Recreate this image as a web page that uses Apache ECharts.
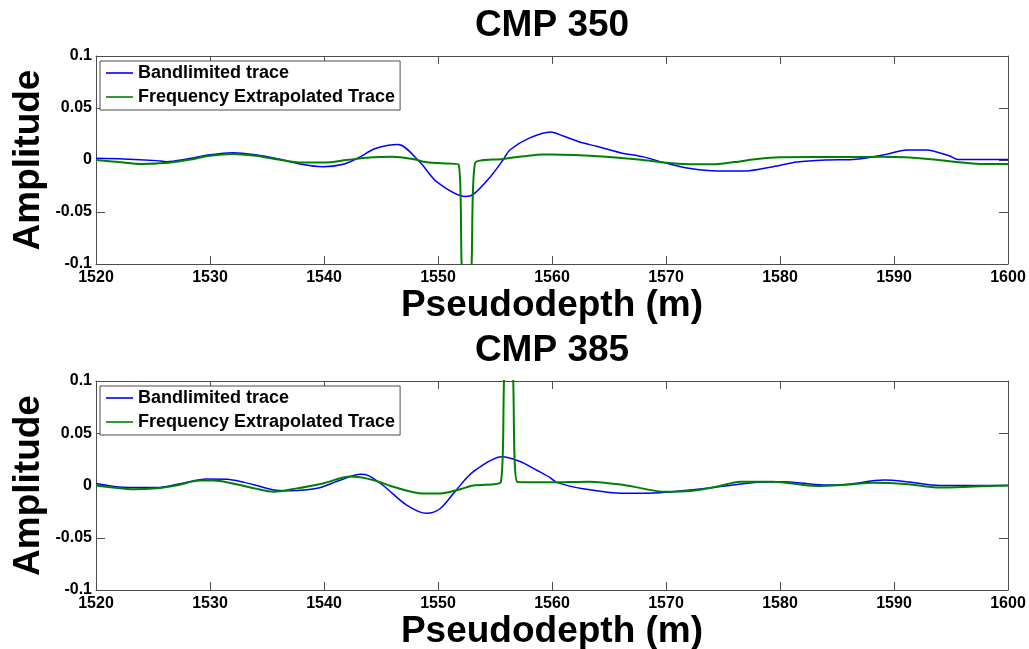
<!DOCTYPE html>
<html>
<head>
<meta charset="utf-8">
<title>CMP 350 / CMP 385</title>
<script src="https://cdn.jsdelivr.net/npm/echarts@6/dist/echarts.min.js"></script>
<style>
  html, body { margin: 0; padding: 0; background: #ffffff; }
  #chart { width: 1029px; height: 649px; }
</style>
</head>
<body>
<div id="chart"></div>
<script>
// Trace amplitudes against pseudodepth (m) for two CMP gathers.

const xTicks = { min: 1520, max: 1600, step: 10 };
const yTicks = { min: -0.1, max: 0.1, step: 0.05 };

const panelTitles = ['CMP 350', 'CMP 385'];
const seriesNames = ['Bandlimited trace', 'Frequency Extrapolated Trace'];

// CMP 350 - bandlimited trace
const cmp350BandDepth = [1520, 1522.4, 1525.3, 1526.2, 1528, 1530, 1532, 1534, 1536, 1538, 1539.9, 1541.7, 1543, 1544.5, 1546.5, 1548.4, 1549.9, 1552.4, 1553.1, 1554.6, 1555.7, 1556.3, 1558, 1559.9, 1561, 1562.5, 1564, 1566, 1568, 1570, 1572, 1574.5, 1577, 1579.4, 1581.5, 1584, 1586.7, 1589.3, 1591.1, 1592.8, 1594.9, 1595.6, 1598, 1600];
const cmp350BandAmp   = [0.0016, 0.001, -0.0006, -0.0016, 0.001, 0.005, 0.007, 0.005, 0.001, -0.004, -0.0064, -0.004, 0.002, 0.011, 0.015, -0.002, -0.021, -0.035, -0.033, -0.016, 0, 0.0096, 0.021, 0.027, 0.023, 0.017, 0.013, 0.007, 0.003, -0.003, -0.008, -0.0106, -0.0105, -0.0064, -0.002, 0, 0.0008, 0.0054, 0.0096, 0.0096, 0.0038, 0.0005, 0.0005, 0.0005];

// CMP 350 - frequency extrapolated trace (sharp negative spike near 1552.5 m)
const cmp350ExtDepth = [1520, 1522, 1524, 1526, 1528, 1530, 1532, 1534, 1536, 1538, 1540, 1542, 1544, 1546, 1548, 1548.7, 1550, 1551.8, 1552.07, 1552.52, 1552.95, 1553.25, 1555.7, 1557.5, 1559.2, 1560, 1562, 1565, 1568, 1570, 1572, 1574, 1576, 1578, 1580, 1583, 1586, 1589, 1591, 1593, 1595.5, 1597.5, 1600];
const cmp350ExtAmp   = [0, -0.002, -0.0038, -0.003, 0, 0.004, 0.0058, 0.004, 0.0005, -0.0025, -0.0025, 0, 0.0025, 0.0032, 0.0005, -0.0016, -0.003, -0.0042, -0.1, -0.24, -0.1, -0.003, 0.001, 0.0035, 0.0054, 0.0054, 0.0048, 0.003, 0, -0.0026, -0.004, -0.0042, -0.002, 0.001, 0.0026, 0.0028, 0.0028, 0.0032, 0.0026, 0.001, -0.002, -0.0038, -0.0038];

// CMP 385 - bandlimited trace
const cmp385BandDepth = [1520, 1522.4, 1525.3, 1527.5, 1529.7, 1531.5, 1533, 1534.1, 1535.5, 1537, 1539.4, 1541.4, 1543.2, 1543.9, 1545.2, 1547.25, 1549, 1550.2, 1551.6, 1553.1, 1555.6, 1557.2, 1558.9, 1559.8, 1560.4, 1562.7, 1566.3, 1568, 1570, 1573.6, 1578, 1580.4, 1583.8, 1585.8, 1589.1, 1591.1, 1594, 1597, 1600];
const cmp385BandAmp   = [0.002, -0.0017, -0.002, 0.002, 0.0062, 0.006, 0.003, 0, -0.004, -0.005, -0.0027, 0.005, 0.0107, 0.0095, 0, -0.0187, -0.0266, -0.022, -0.0043, 0.0132, 0.0276, 0.023, 0.0132, 0.0078, 0.003, -0.003, -0.0075, -0.0075, -0.0065, -0.0027, 0.003, 0.0037, 0.0005, 0.001, 0.0053, 0.0037, 0, 0, 0];

// CMP 385 - frequency extrapolated trace (sharp positive spike near 1556.2 m)
const cmp385ExtDepth = [1520, 1521.5, 1523.3, 1525.3, 1527, 1529.1, 1530.3, 1532, 1534, 1535.6, 1537.5, 1539.9, 1542.3, 1544.3, 1546, 1548.7, 1550.2, 1551.8, 1553.1, 1555.5, 1555.79, 1556.23, 1556.6, 1556.95, 1559.8, 1563.3, 1566.3, 1570, 1572.1, 1574.5, 1576.5, 1579.4, 1583.2, 1586, 1588.2, 1591, 1594, 1597, 1600];
const cmp385ExtAmp   = [0, -0.002, -0.0037, -0.0027, 0, 0.0047, 0.0047, 0.002, -0.003, -0.006, -0.003, 0.002, 0.0085, 0.0053, -0.001, -0.0076, -0.0076, -0.004, 0, 0.003, 0.1, 0.235, 0.1, 0.0035, 0.003, 0.0037, 0.0005, -0.006, -0.0053, -0.001, 0.0037, 0.0037, -0.0005, 0.001, 0.0027, 0.0015, -0.002, -0.001, 0];

const FONT = '"Liberation Sans", Arial, Helvetica, sans-serif';
const AXIS_GRAY = '#4d4d4d';

function pairs(xs, ys) {
  return xs.map((x, i) => [x, ys[i]]);
}

const bigText = { fontFamily: FONT, fontWeight: 'bold', fontSize: 37, color: '#000' };
const tickText = { fontFamily: FONT, fontWeight: 'bold', fontSize: 16, color: '#000' };

function xAxisPair(gridIndex, title) {
  const common = {
    gridIndex,
    type: 'value',
    min: xTicks.min,
    max: xTicks.max,
    interval: xTicks.step,
    splitLine: { show: false },
    nameMoveOverlap: false,
    axisLine: { onZero: false, lineStyle: { color: AXIS_GRAY, width: 1 } },
    axisTick: { inside: true, length: 8, lineStyle: { color: AXIS_GRAY, width: 1 } }
  };
  return [
    Object.assign({}, common, {
      position: 'bottom',
      name: 'Pseudodepth (m)',
      nameLocation: 'middle',
      nameGap: 23,
      nameTextStyle: bigText,
      axisLabel: Object.assign({ margin: 6, formatter: v => String(v) }, tickText)
    }),
    Object.assign({}, common, {
      position: 'top',
      name: title,
      nameLocation: 'middle',
      nameGap: 12,
      nameTextStyle: bigText,
      axisLabel: { show: false }
    })
  ];
}

function yAxisPair(gridIndex) {
  const common = {
    gridIndex,
    type: 'value',
    min: yTicks.min,
    max: yTicks.max,
    interval: yTicks.step,
    splitLine: { show: false },
    nameMoveOverlap: false,
    axisLine: { onZero: false, lineStyle: { color: AXIS_GRAY, width: 1 } },
    axisTick: { inside: true, length: 9, lineStyle: { color: AXIS_GRAY, width: 1 } }
  };
  return [
    Object.assign({}, common, {
      position: 'left',
      name: 'Amplitude',
      nameLocation: 'middle',
      nameGap: 49,
      nameTextStyle: bigText,
      axisLabel: Object.assign({ margin: 4, formatter: v => String(Math.round(v * 100) / 100) }, tickText)
    }),
    Object.assign({}, common, {
      position: 'right',
      axisLabel: { show: false }
    })
  ];
}

function legendFor(top) {
  return {
    orient: 'vertical',
    left: 100,
    top: top,
    data: seriesNames.map(name => ({ name, icon: 'rect' })),
    itemWidth: 27,
    itemHeight: 1.6,
    itemGap: 6,
    padding: [3, 5, 4, 6],
    backgroundColor: '#ffffff',
    borderColor: AXIS_GRAY,
    borderWidth: 1,
    borderRadius: 0,
    selectedMode: false,
    textStyle: { fontFamily: FONT, fontWeight: 'bold', fontSize: 18, color: '#000' }
  };
}

function traceSeries(name, data, xi, yi, color, width) {
  return {
    name,
    type: 'line',
    xAxisIndex: xi,
    yAxisIndex: yi,
    data,
    symbol: 'none',
    smooth: 0.3,
    clip: true,
    animation: false,
    lineStyle: { color, width },
    itemStyle: { color }
  };
}

const chart = echarts.init(document.getElementById('chart'), null, { renderer: 'canvas' });

chart.setOption({
  backgroundColor: '#ffffff',
  animation: false,
  grid: [
    { left: 96, top: 56, width: 912, height: 208, containLabel: false, outerBoundsMode: 'none' },
    { left: 96, top: 381, width: 912, height: 209, containLabel: false, outerBoundsMode: 'none' }
  ],
  xAxis: [].concat(xAxisPair(0, panelTitles[0]), xAxisPair(1, panelTitles[1])),
  yAxis: [].concat(yAxisPair(0), yAxisPair(1)),
  legend: [legendFor(61), legendFor(386)],
  series: [
    traceSeries(seriesNames[0], pairs(cmp350BandDepth, cmp350BandAmp), 0, 0, '#0000ff', 1.5),
    traceSeries(seriesNames[1], pairs(cmp350ExtDepth, cmp350ExtAmp), 0, 0, '#008000', 2),
    traceSeries(seriesNames[0], pairs(cmp385BandDepth, cmp385BandAmp), 2, 2, '#0000ff', 1.5),
    traceSeries(seriesNames[1], pairs(cmp385ExtDepth, cmp385ExtAmp), 2, 2, '#008000', 2)
  ]
});
</script>
</body>
</html>
